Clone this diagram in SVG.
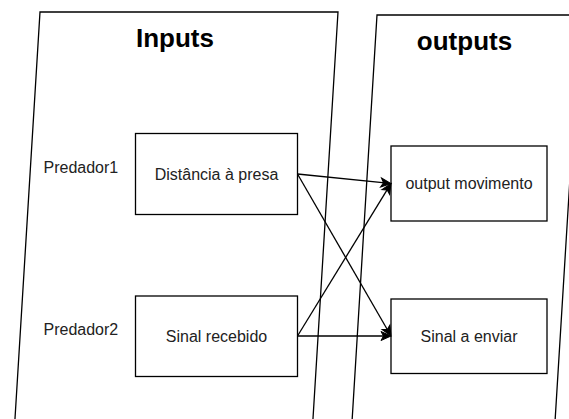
<svg xmlns="http://www.w3.org/2000/svg" width="569" height="419" viewBox="0 0 569 419">
  <style>
    .lane { fill: #ffffff; stroke: #000000; stroke-width: 1.3; }
    .box { fill: #ffffff; stroke: #000000; stroke-width: 1.3; }
    .title { font-family: "Liberation Sans", Arial, sans-serif; font-size: 26px; font-weight: bold; fill: #000000; text-anchor: middle; }
    .label { font-family: "Liberation Sans", Arial, sans-serif; font-size: 16px; fill: #222222; }
    .mid { text-anchor: middle; }
    .edge { fill: none; stroke: #000000; stroke-width: 1.3; }
  </style>
  <defs>
    <marker id="arrow" markerUnits="userSpaceOnUse" markerWidth="20" markerHeight="20" refX="0" refY="0" orient="auto" overflow="visible">
      <path d="M-4,-4.5 L6,0 L-4,4.5 L-1.5,0 Z" fill="#000000" stroke="#000000" stroke-width="1"/>
    </marker>
  </defs>

  <rect width="569" height="419" fill="#ffffff"/>

  <!-- lanes -->
  <g id="inputs-lane">
    <polygon class="lane" points="40,12 338,12 312.3,430 14.3,430"/>
    <text class="title" x="175" y="47">Inputs</text>
  </g>
  <g id="outputs-lane">
    <polygon class="lane" points="377,15 580,15 554.5,430 351.5,430"/>
    <text class="title" x="464.5" y="50">outputs</text>
  </g>

  <!-- side labels -->
  <g id="predador1">
    <text class="label" x="43.5" y="172.5">Predador1</text>
  </g>
  <g id="predador2">
    <text class="label" x="43.5" y="334.5">Predador2</text>
  </g>

  <!-- input nodes -->
  <g id="distancia">
    <rect class="box" x="135.5" y="133.5" width="162" height="81"/>
    <text class="label mid" x="216.5" y="179.5">Distância à presa</text>
  </g>
  <g id="sinal-recebido">
    <rect class="box" x="135.5" y="296" width="162" height="80.5"/>
    <text class="label mid" x="216.5" y="342">Sinal recebido</text>
  </g>

  <!-- output nodes -->
  <g id="output-movimento">
    <rect class="box" x="391" y="146" width="156" height="75"/>
    <text class="label mid" x="469" y="189">output movimento</text>
  </g>
  <g id="sinal-enviar">
    <rect class="box" x="391" y="299" width="156" height="74.5"/>
    <text class="label mid" x="469" y="341.5">Sinal a enviar</text>
  </g>

  <!-- connectors -->
  <g id="connectors">
    <line class="edge" x1="297.5" y1="174" x2="385" y2="182.9" marker-end="url(#arrow)"/>
    <line class="edge" x1="297.5" y1="174" x2="388" y2="330.8" marker-end="url(#arrow)"/>
    <line class="edge" x1="297.5" y1="336" x2="385" y2="336" marker-end="url(#arrow)"/>
    <line class="edge" x1="297.5" y1="336" x2="387.85" y2="188.6" marker-end="url(#arrow)"/>
  </g>
</svg>
